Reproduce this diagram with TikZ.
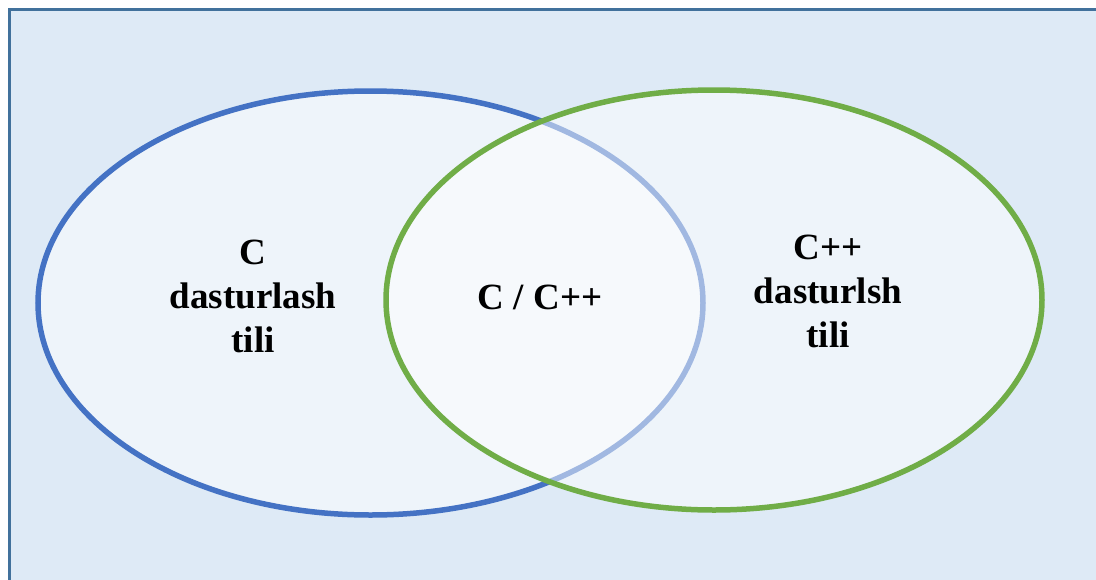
\documentclass[tikz,border=0pt]{standalone}
\usepackage{fontspec}
\setmainfont{Liberation Serif}
\definecolor{bgblue}{HTML}{DEEAF6}
\definecolor{frameblue}{HTML}{41719C}
\definecolor{setblue}{HTML}{4472C4}
\definecolor{setgreen}{HTML}{70AD47}

\newcommand*{\wmax}{1096}
\newcommand*{\hmax}{579}

\begin{document}
\begin{tikzpicture}
[
	x=1pt, y=-1pt,
	setring/.style={line width=5.5pt, fill=white, fill opacity=0.5, draw opacity=1},
	setlabel/.style={align=center, font=\fontsize{37}{44}\selectfont\bfseries, inner sep=0pt}
]

	% canvas
	\useasboundingbox (0,0) rectangle (\wmax,\hmax);
	\fill[white] (0,0) rectangle (\wmax,\hmax);
	\draw[frameblue, line width=3pt, fill=bgblue] (9.5,9.5) rectangle (\wmax+20,\hmax+20);

	% sets
	\draw[setring, draw=setblue] (370.5,303) ellipse [x radius=332.5, y radius=212];
	\draw[setring, draw=setgreen] (714,300) ellipse [x radius=328, y radius=210];

	% labels
	\node[setlabel] (clang) at (253,296) {C\\dasturlash\\tili};
	\node[setlabel] (both) at (540,297) {C / C++};
	\node[setlabel] (cpplang) at (828,291) {C++\\dasturlsh\\tili};

\end{tikzpicture}
\end{document}
